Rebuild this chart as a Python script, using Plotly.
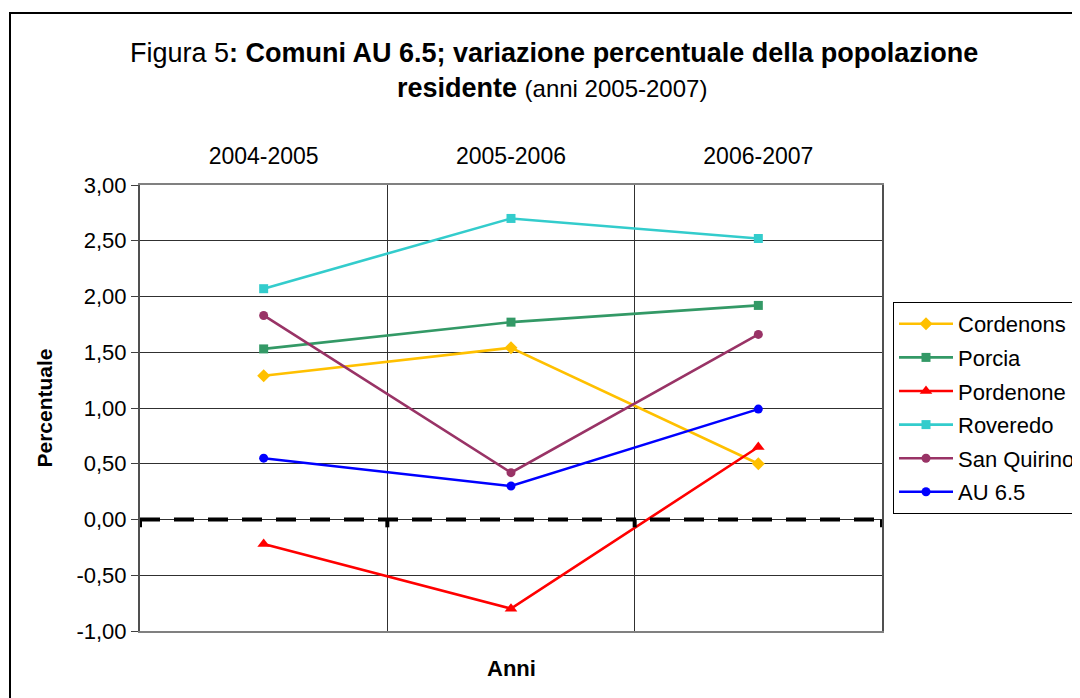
import plotly.graph_objects as go

periods = ["2004-2005", "2005-2006", "2006-2007"]
cordenons = [1.29, 1.54, 0.50]
porcia = [1.53, 1.77, 1.92]
pordenone = [-0.22, -0.80, 0.65]
roveredo = [2.07, 2.70, 2.52]
san_quirino = [1.83, 0.42, 1.66]
au65 = [0.55, 0.30, 0.99]

y_tick_vals = [-1.0, -0.5, 0.0, 0.5, 1.0, 1.5, 2.0, 2.5, 3.0]
y_tick_text = ["-1,00", "-0,50", "0,00", "0,50", "1,00", "1,50", "2,00", "2,50", "3,00"]

series = [
    ("Cordenons", cordenons, "#FFC000", "diamond", 10),
    ("Porcia", porcia, "#339966", "square", 9),
    ("Pordenone", pordenone, "#FF0000", "triangle-up", 11),
    ("Roveredo", roveredo, "#33CCCC", "square", 9),
    ("San Quirino", san_quirino, "#993366", "circle", 9),
    ("AU 6.5", au65, "#0000FF", "circle", 9),
]

FONT = "Liberation Sans, Arial, sans-serif"

fig = go.Figure()
for name, vals, color, sym, sz in series:
    fig.add_trace(go.Scatter(
        x=periods, y=vals, name=name, mode="lines+markers",
        line=dict(color=color, width=2.6),
        marker=dict(symbol=sym, size=sz, color=color),
        legendgroup=name,
    ))

# page offset (body margin) and target plot area in screen pixels
OFF = 8
W, H = 1080, 698
PL, PR, PT, PB = 140, 882, 185, 631
L = PL - OFF
T = PT - OFF
R = W - (PR - OFF)
B = H - (PB - OFF)
pw, ph = PR - PL, PB - PT

def px_x(p):
    return (p - PL) / pw

def px_y(p):
    return (PB - p) / ph

shapes = [
    # outer frame
    dict(type="rect", xref="paper", yref="paper",
         x0=px_x(10), x1=px_x(1095), y0=px_y(715), y1=px_y(13),
         line=dict(color="black", width=2), fillcolor="rgba(0,0,0,0)", layer="below"),
    # dashed zero line
    dict(type="line", xref="paper", yref="y", x0=0, x1=1, y0=0, y1=0,
         line=dict(color="black", width=4, dash="20px,14px")),
]
for b in [-0.5, 0.5, 1.5, 2.5]:
    shapes.append(dict(type="line", xref="x", yref="y", x0=b, x1=b, y0=0, y1=-0.07,
                       line=dict(color="black", width=4)))

annotations = [
    dict(text="Figura 5<b>: Comuni AU 6.5; variazione percentuale della popolazione</b>",
         xref="paper", yref="paper", x=px_x(554), y=px_y(53), showarrow=False,
         xanchor="center", yanchor="middle", font=dict(size=27, color="black", family=FONT)),
    dict(text="<b>residente</b> <span style='font-size:24px'>(anni 2005-2007)</span>",
         xref="paper", yref="paper", x=px_x(552), y=px_y(88), showarrow=False,
         xanchor="center", yanchor="middle", font=dict(size=27, color="black", family=FONT)),
    dict(text="<b>Anni</b>", xref="paper", yref="paper", x=px_x(511), y=px_y(668),
         showarrow=False, xanchor="center", yanchor="middle",
         font=dict(size=22, color="black", family=FONT)),
]

fig.update_layout(
    width=W, height=H,
    margin=dict(l=L, r=R, t=T, b=B, autoexpand=False),
    paper_bgcolor="white", plot_bgcolor="white",
    font=dict(family=FONT, color="black", size=22),
    showlegend=True,
    legend=dict(x=px_x(893), y=px_y(302), xanchor="left", yanchor="top",
                bordercolor="black", borderwidth=1, bgcolor="white",
                font=dict(size=22, family=FONT), tracegroupgap=2,
                itemwidth=54),
    shapes=shapes,
    annotations=annotations,
)
fig.update_xaxes(
    type="category", side="top", tickson="boundaries",
    showgrid=True, gridcolor="#303030", gridwidth=1,
    showline=True, linecolor="#808080", linewidth=2, mirror=True,
    ticks="", ticklabelstandoff=10,
    tickfont=dict(size=23, family=FONT), range=[-0.5, 2.5],
)
fig.update_yaxes(
    range=[-1, 3], tickvals=y_tick_vals, ticktext=y_tick_text,
    showgrid=True, gridcolor="#303030", gridwidth=1,
    showline=True, linecolor="#505050", linewidth=2, mirror=True,
    ticks="outside", ticklen=7, tickcolor="#404040",
    zeroline=False,
    tickfont=dict(size=22, family=FONT),
    title=dict(text="<b>Percentuale</b>", font=dict(size=21, family=FONT), standoff=18),
)

fig.write_html("out.html")
